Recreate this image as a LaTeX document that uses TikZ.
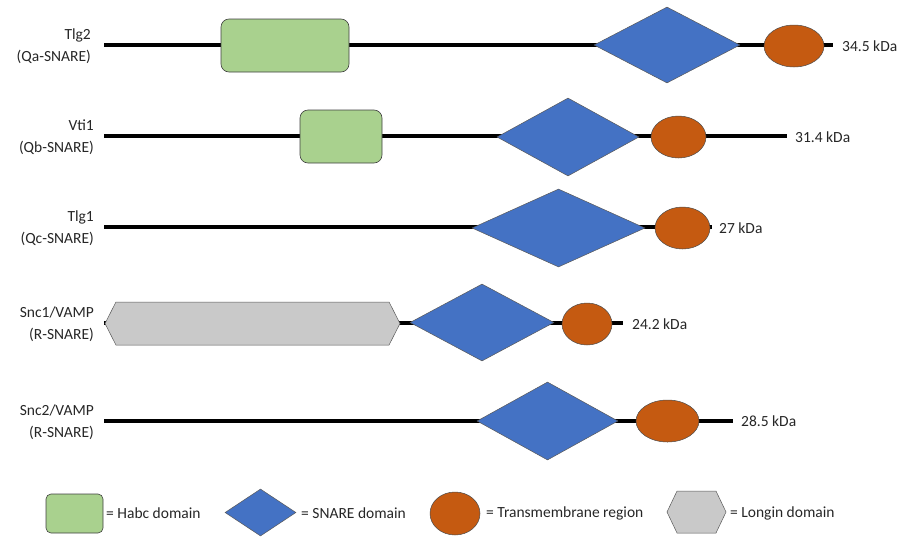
\documentclass[tikz,border=0pt]{standalone}
\usepackage{fontspec}
\setmainfont{Carlito}
\usetikzlibrary{shapes.geometric,shapes.symbols}
\definecolor{hgreen}{HTML}{A9D18E}
\definecolor{sblue}{HTML}{4472C4}
\definecolor{tmorange}{HTML}{C55A11}
\definecolor{lgray}{HTML}{C9C9C9}
\begin{document}
\begin{tikzpicture}[x=1pt,y=-1pt,
  every node/.style={font=\fontsize{15.5}{22}\selectfont, text=black!85},
  backbone/.style={line width=3.5pt},
  habc/.style={draw=black!75, line width=0.6pt, fill=hgreen, rounded corners=8pt, inner sep=0},
  snare/.style={diamond, draw=black!65, line width=0.5pt, fill=sblue, inner sep=0},
  tm/.style={ellipse, draw=black!70, line width=0.5pt, fill=tmorange, inner sep=0},
  longin/.style={signal, signal to=west and east, draw=black!65, line width=0.5pt, fill=lgray, inner sep=0},
  protname/.style={align=right, anchor=east, inner sep=0},
  mass/.style={anchor=west, inner sep=0},
  legtext/.style={anchor=west, inner sep=0}]
\useasboundingbox (0,0) rectangle (904,536);
% Row 1: Tlg2
\coordinate (a0) at (104,45); \coordinate (a1) at (833,45);
\draw[backbone] (a0) -- (a1);
\node[habc, minimum width=128, minimum height=53] (ah) at (285,45.5) {};
\node[snare, minimum width=146, minimum height=76] (as) at (667,45) {};
\node[tm, minimum width=60, minimum height=42] (at) at (794,46) {};
\node[protname] (an) at (91,46) {Tlg2\\(Qa-SNARE)};
\node[mass] (am) at (842,46) {34.5 kDa};
% Row 2: Vti1
\coordinate (b0) at (104,136); \coordinate (b1) at (787,136);
\draw[backbone] (b0) -- (b1);
\node[habc, minimum width=82, minimum height=53] (bh) at (341,136.5) {};
\node[snare, minimum width=142, minimum height=78] (bs) at (568,137) {};
\node[tm, minimum width=55, minimum height=42] (bt) at (678.5,137) {};
\node[protname] (bn) at (94,137) {Vti1\\(Qb-SNARE)};
\node[mass] (bm) at (795,137) {31.4 kDa};
% Row 3: Tlg1
\coordinate (c0) at (104,227); \coordinate (c1) at (712,227);
\draw[backbone] (c0) -- (c1);
\node[snare, minimum width=173, minimum height=78] (cs) at (558.5,228) {};
\node[tm, minimum width=55, minimum height=42] (ct) at (682.5,228) {};
\node[protname] (cn) at (94,228) {Tlg1\\(Qc-SNARE)};
\node[mass] (cm) at (719,228) {27 kDa};
% Row 4: Snc1
\coordinate (d0) at (104,323); \coordinate (d1) at (623,323);
\draw[backbone] (d0) -- (d1);
\node[longin, minimum width=295, minimum height=43, signal pointer angle=126] (dl) at (252.5,323.5) {};
\node[snare, minimum width=144, minimum height=77] (ds) at (482,322.5) {};
\node[tm, minimum width=50, minimum height=42] (dt) at (587,324) {};
\node[protname] (dn) at (94,324) {Snc1/VAMP\\(R-SNARE)};
\node[mass] (dm) at (632,324) {24.2 kDa};
% Row 5: Snc2
\coordinate (e0) at (104,421); \coordinate (e1) at (733,421);
\draw[backbone] (e0) -- (e1);
\node[snare, minimum width=141, minimum height=78] (es) at (547.5,421) {};
\node[tm, minimum width=63, minimum height=42] (et) at (667.5,421) {};
\node[protname] (en) at (94,422) {Snc2/VAMP\\(R-SNARE)};
\node[mass] (em) at (741,421) {28.5 kDa};
% Legend
\node[habc, rounded corners=5pt, minimum width=57, minimum height=39] (lh) at (74.5,513.5) {};
\node[legtext] (lht) at (106,513) {= Habc domain};
\node[snare, minimum width=71, minimum height=47] (ls) at (260.5,512.5) {};
\node[legtext] (lst) at (301,513) {= SNARE domain};
\node[tm, minimum width=50, minimum height=43] (lt) at (455,513.5) {};
\node[legtext] (ltt) at (486,513) {= Transmembrane region};
\node[longin, minimum width=59, minimum height=42, signal pointer angle=129] (ll) at (696.5,512) {};
\node[legtext] (llt) at (730,513) {= Longin domain};
\end{tikzpicture}
\end{document}
